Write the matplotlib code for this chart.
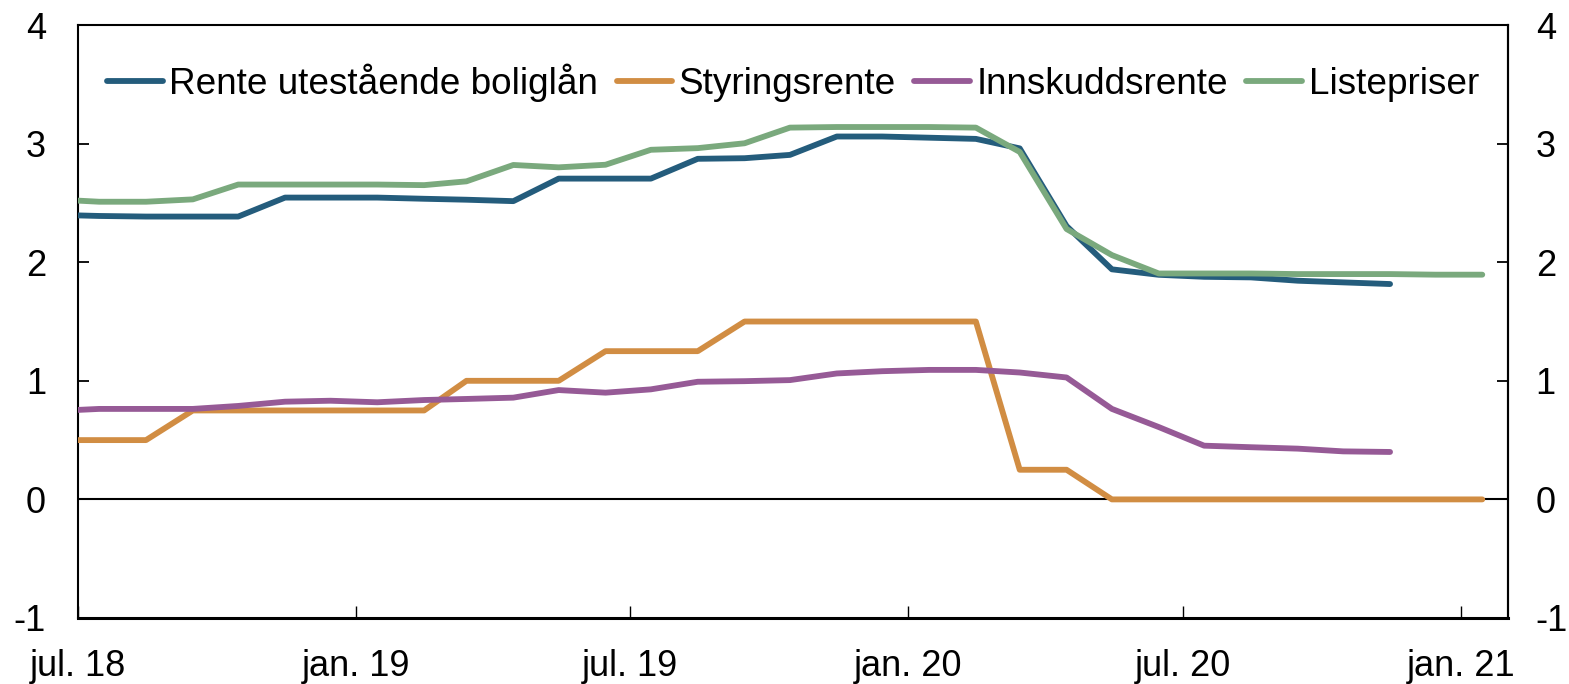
import matplotlib
matplotlib.use("Agg")
import matplotlib.pyplot as plt
import pandas as pd
import numpy as np

plt.rcParams["font.family"] = ["Liberation Sans", "DejaVu Sans"]

# monthly observations, plotted mid-month (first one is jun. 18, clipped by the axis)
months = pd.date_range("2018-06-01", "2021-01-01", freq="MS") + pd.Timedelta(days=14)

rente_boliglan = [2.40, 2.39, 2.385, 2.385, 2.385, 2.545, 2.545, 2.545, 2.535, 2.527,
                  2.515, 2.705, 2.705, 2.705, 2.872, 2.877, 2.905, 3.06, 3.06, 3.05,
                  3.04, 2.96, 2.305, 1.94, 1.894, 1.877, 1.872, 1.844, 1.83, 1.816]
styringsrente = [0.5, 0.5, 0.5, 0.75, 0.75, 0.75, 0.75, 0.75, 0.75, 1.0,
                 1.0, 1.0, 1.25, 1.25, 1.25, 1.5, 1.5, 1.5, 1.5, 1.5,
                 1.5, 0.25, 0.25, 0.0, 0.0, 0.0, 0.0, 0.0, 0.0, 0.0, 0.0, 0.0]
innskuddsrente = [0.745, 0.763, 0.763, 0.763, 0.788, 0.824, 0.832, 0.819, 0.838, 0.847,
                  0.858, 0.922, 0.90, 0.928, 0.992, 0.997, 1.006, 1.062, 1.081, 1.092,
                  1.092, 1.07, 1.028, 0.763, 0.61, 0.453, 0.44, 0.428, 0.405, 0.40]
listepriser = [2.53, 2.51, 2.51, 2.53, 2.655, 2.655, 2.655, 2.655, 2.65, 2.682,
               2.82, 2.80, 2.822, 2.948, 2.962, 3.003, 3.135, 3.14, 3.14, 3.14,
               3.135, 2.93, 2.28, 2.06, 1.905, 1.905, 1.905, 1.90, 1.90, 1.90, 1.895, 1.895]

series = [
    ("Rente utestående boliglån", rente_boliglan, "#245c7c"),
    ("Styringsrente", styringsrente, "#d18d43"),
    ("Innskuddsrente", innskuddsrente, "#965a96"),
    ("Listepriser", listepriser, "#7aa97d"),
]

tick_dates = pd.to_datetime(["2018-07-01", "2019-01-01", "2019-07-01",
                             "2020-01-01", "2020-07-01", "2021-01-01"])
tick_labels = ["jul. 18", "jan. 19", "jul. 19", "jan. 20", "jul. 20", "jan. 21"]
y_ticks = [-1, 0, 1, 2, 3, 4]
y_labels = ["-1", "0", "1", "2", "3", "4"]

fig = plt.figure(figsize=(15.69, 6.84), dpi=100)
ax = fig.add_axes([0.0497, 0.0965, 0.9114, 0.8669])

ax.axhline(0, color="black", lw=1.5, zorder=1)
for name, vals, col in series:
    ax.plot(months[:len(vals)], vals, color=col, lw=4.2, label=name,
            solid_capstyle="round", zorder=3)

ax.set_xlim(pd.Timestamp("2018-07-01"), pd.Timestamp("2021-02-01"))
ax.set_ylim(-1, 4)
ax.set_yticks(y_ticks)
ax.set_yticklabels(y_labels)
ax.set_xticks(tick_dates)
ax.set_xticklabels(tick_labels)

ax.tick_params(axis="y", direction="in", length=8, width=1.3, labelsize=26, pad=23)
ax.tick_params(axis="x", direction="in", length=9, width=1.0, labelsize=26, pad=22)

# same scale on the right side
ax2 = ax.secondary_yaxis("right")
ax2.set_yticks(y_ticks)
ax2.set_yticklabels(y_labels)
ax2.tick_params(direction="in", length=8, width=1.3, labelsize=26, pad=20)
ax2.spines["right"].set_linewidth(1.5)

for side in ["left", "right", "top"]:
    ax.spines[side].set_linewidth(1.5)
ax.spines["bottom"].set_linewidth(2.2)

ax.legend(loc="center", bbox_to_anchor=(0.5, 0.902), ncol=4, frameon=False,
          fontsize=26.6, handlelength=1.5, handletextpad=0.18, columnspacing=0.5,
          borderpad=0)

fig.savefig("out.png", dpi=100)
